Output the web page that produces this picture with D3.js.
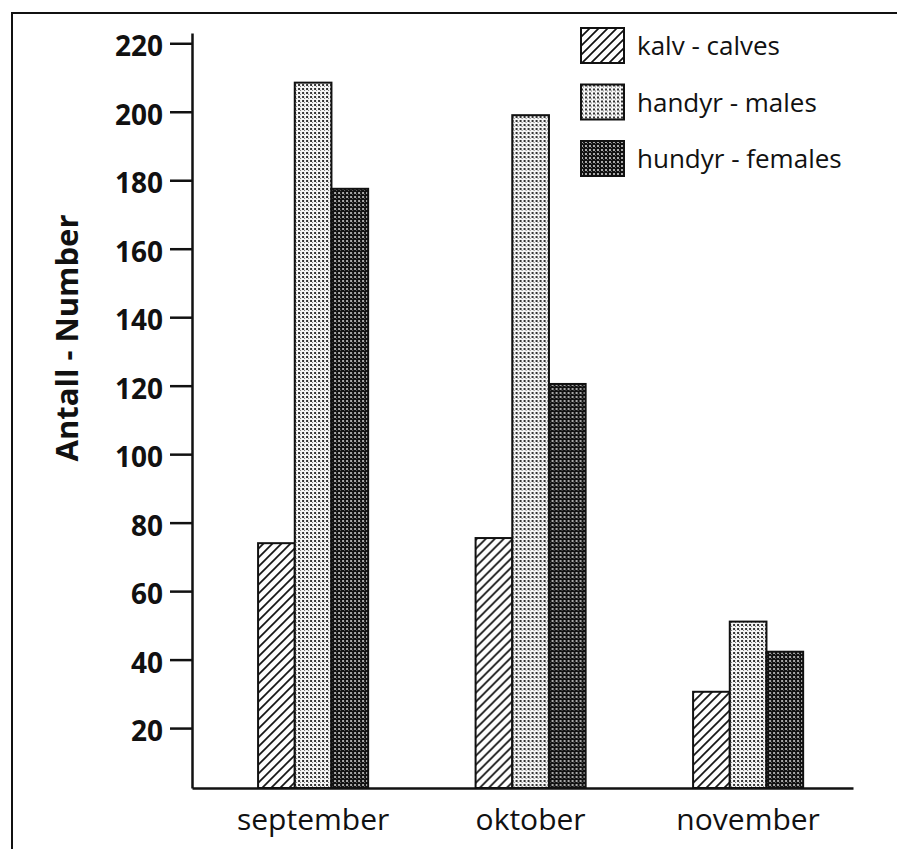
<!DOCTYPE html>
<html>
<head>
<meta charset="utf-8">
<script src="https://cdn.jsdelivr.net/npm/d3@7"></script>
<style>
  html, body { margin: 0; padding: 0; background: #fff; }
  svg { display: block; }
  text { font-family: "Open Sans", "Noto Sans", sans-serif; fill: #111; }
</style>
</head>
<body>
<svg id="chart" width="897" height="849"></svg>
<script>
// ---- data ----
const months = ["september", "oktober", "november"];
const seriesNames = ["kalv - calves", "handyr - males", "hundyr - females"];
const calves  = [74, 75.5, 30.6];
const males   = [208.5, 199, 51.1];
const females = [177.5, 120.5, 42.3];
const yTicks  = [20, 40, 60, 80, 100, 120, 140, 160, 180, 200, 220];
const yTitle  = "Antall - Number";
const seriesValues = [calves, males, females];
const patternIds = ["hatch", "lightdots", "darkdots"];

const svg = d3.select("#chart");
const W = 897, H = 849;

// ---- patterns ----
const defs = svg.append("defs");
const hatch = defs.append("pattern").attr("id", "hatch")
  .attr("patternUnits", "userSpaceOnUse").attr("width", 9).attr("height", 9);
hatch.append("rect").attr("width", 9).attr("height", 9).attr("fill", "#fff");
hatch.append("path").attr("d", "M-2,2 L2,-2 M0,9 L9,0 M7,11 L11,7")
  .attr("stroke", "#111").attr("stroke-width", 1.7);

const light = defs.append("pattern").attr("id", "lightdots")
  .attr("patternUnits", "userSpaceOnUse").attr("width", 4).attr("height", 4);
light.append("rect").attr("width", 4).attr("height", 4).attr("fill", "#f6f6f6");
light.append("rect").attr("x", 0).attr("y", 0).attr("width", 2).attr("height", 2).attr("fill", "#333");
light.append("rect").attr("x", 2).attr("y", 2).attr("width", 1).attr("height", 1).attr("fill", "#777");

const dark = defs.append("pattern").attr("id", "darkdots")
  .attr("patternUnits", "userSpaceOnUse").attr("width", 4).attr("height", 4);
dark.append("rect").attr("width", 4).attr("height", 4).attr("fill", "#111");
dark.append("rect").attr("x", 0).attr("y", 0).attr("width", 2).attr("height", 2).attr("fill", "#a8a8a8");
dark.append("rect").attr("x", 2).attr("y", 2).attr("width", 1).attr("height", 1).attr("fill", "#666");

// ---- frame ----
svg.append("path").attr("d", `M12,${H} V13 H${W}`)
  .attr("fill", "none").attr("stroke", "#111").attr("stroke-width", 2);

// ---- scales ----
const axisX = 192, axisY = 788;
const y = d3.scaleLinear().domain([2.5, 223]).range([axisY, 33]);
const x = d3.scaleBand().domain(months).range([axisX, 853])
  .paddingInner(0.494).paddingOuter(0.2665).align(0.57);
const xs = d3.scaleBand().domain(seriesNames).range([0, x.bandwidth()]).padding(0);

// ---- bars ----
const groups = svg.append("g").selectAll("g").data(months).join("g")
  .attr("transform", d => `translate(${x(d)},0)`);
groups.selectAll("rect")
  .data((m, mi) => seriesNames.map((s, si) => ({ s, si, v: seriesValues[si][mi] })))
  .join("rect")
  .attr("x", d => xs(d.s))
  .attr("width", xs.bandwidth())
  .attr("y", d => y(d.v))
  .attr("height", d => y(y.domain()[0]) - y(d.v))
  .attr("fill", d => `url(#${patternIds[d.si]})`)
  .attr("stroke", "#111").attr("stroke-width", 2);

// ---- y axis ----
const gy = svg.append("g").attr("transform", `translate(${axisX},0)`)
  .call(d3.axisLeft(y).tickValues(yTicks).tickSize(22).tickSizeOuter(0).tickPadding(7).tickFormat(d3.format("d")));
gy.select(".domain").attr("stroke", "#111").attr("stroke-width", 2.5);
gy.selectAll(".tick line").attr("stroke", "#111").attr("stroke-width", 2.5);
gy.selectAll(".tick text").attr("font-size", 28).attr("font-weight", 700)
  .attr("dy", "0.45em").style("font-family", "'Open Sans', sans-serif").attr("fill", "#111");

// ---- x axis ----
const gx = svg.append("g").attr("transform", `translate(0,${axisY})`)
  .call(d3.axisBottom(x).tickSize(0).tickSizeOuter(0).tickPadding(0));
gx.select(".domain").attr("stroke", "#111").attr("stroke-width", 2.5);
gx.selectAll(".tick text").attr("font-size", 30).attr("font-weight", 500)
  .attr("y", 42).attr("dy", 0).style("font-family", "'Open Sans', sans-serif").attr("fill", "#111");

// ---- y title ----
svg.append("text")
  .attr("transform", `translate(78,338) rotate(-90)`)
  .attr("text-anchor", "middle")
  .attr("font-size", 31).attr("font-weight", 700)
  .text(yTitle);

// ---- legend ----
const legend = svg.append("g").attr("transform", "translate(581,28)");
const li = legend.selectAll("g").data(seriesNames).join("g")
  .attr("transform", (d, i) => `translate(0,${i * 56.5})`);
li.append("rect").attr("width", 43).attr("height", 35)
  .attr("fill", (d, i) => `url(#${patternIds[i]})`)
  .attr("stroke", "#111").attr("stroke-width", 2);
li.append("text").attr("x", 56).attr("y", 27)
  .attr("font-size", 26).attr("font-weight", 400)
  .text(d => d);
</script>
</body>
</html>
